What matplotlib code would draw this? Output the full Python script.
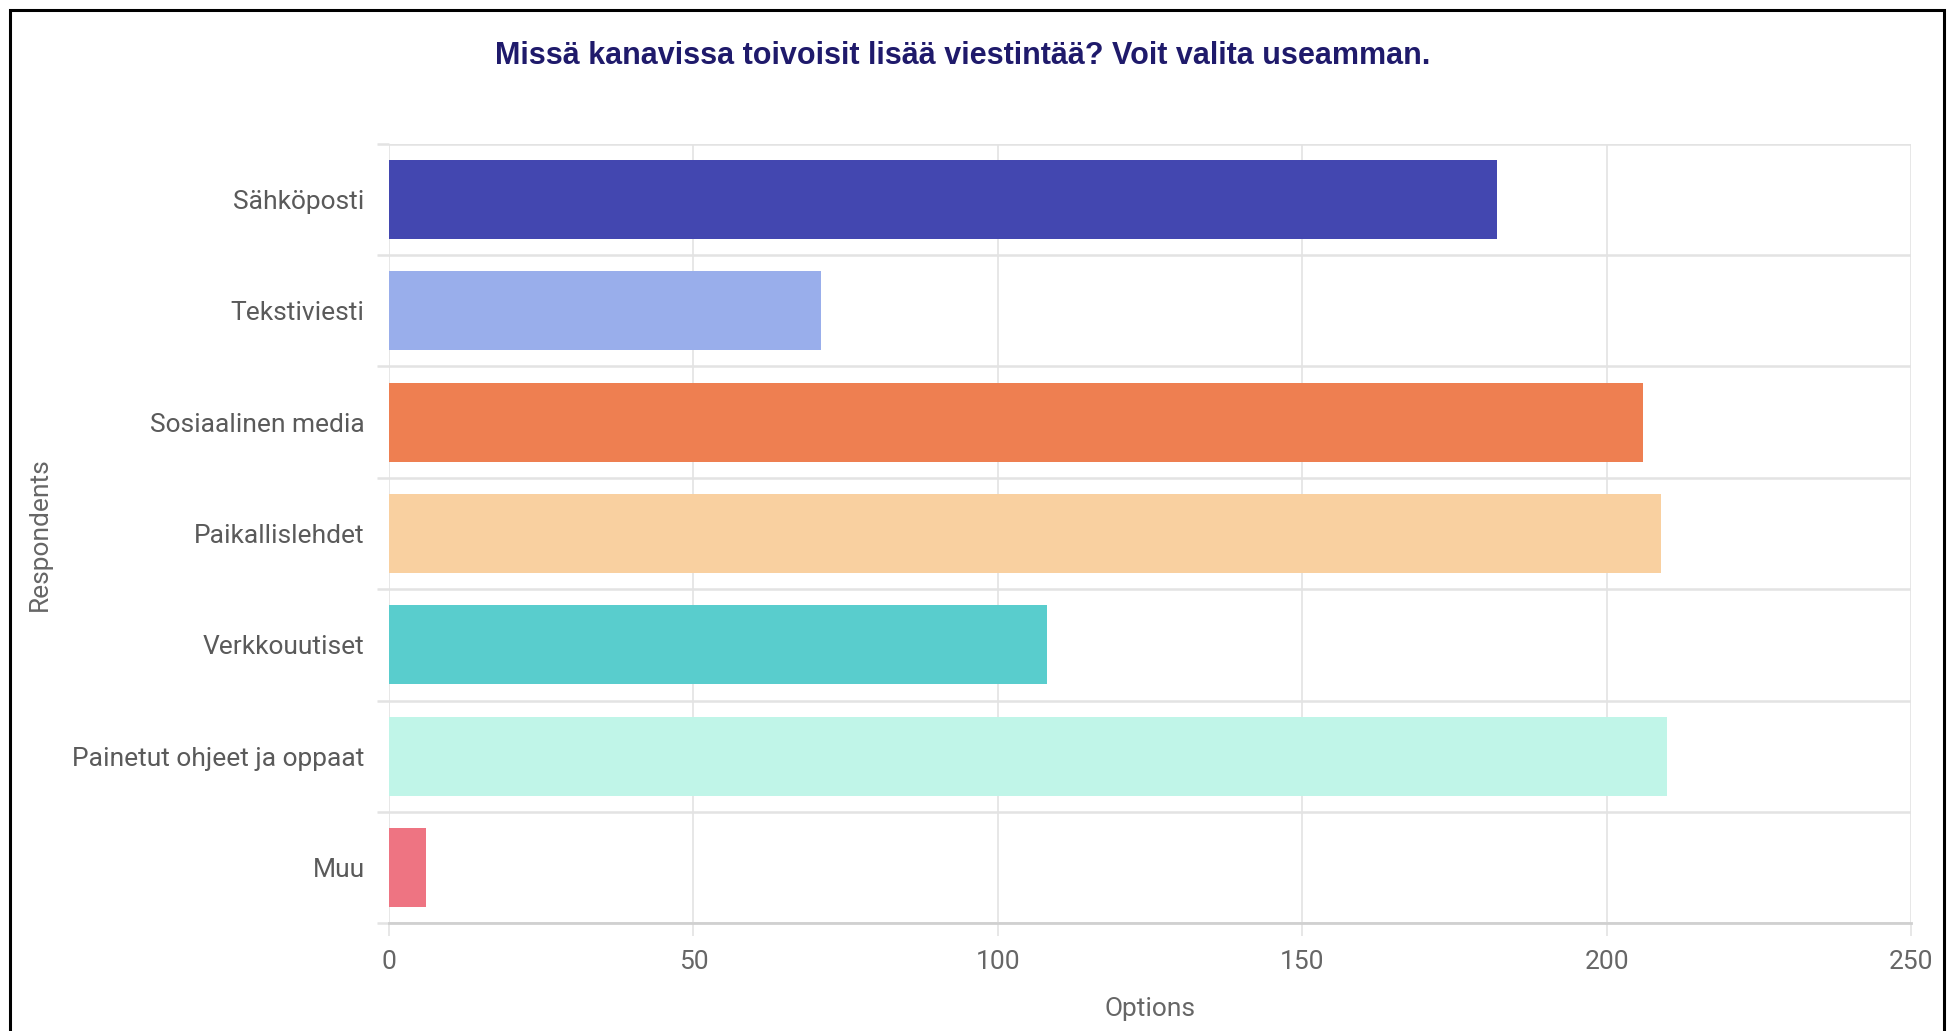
import matplotlib.pyplot as plt
import numpy as np
from matplotlib.patches import Rectangle

# vastaukset kanavittain
kanavat = ['Sähköposti', 'Tekstiviesti', 'Sosiaalinen media', 'Paikallislehdet',
           'Verkkouutiset', 'Painetut ohjeet ja oppaat', 'Muu']
vastaukset = [182, 71, 206, 209, 108, 210, 6]
varit = ['#4347B0', '#99AEEB', '#EE7F51', '#F9D0A0', '#59CDCD', '#C0F5E8', '#EE7482']
xtiks = [0, 50, 100, 150, 200, 250]

plt.rcParams['font.family'] = ['Roboto', 'DejaVu Sans']

fig = plt.figure(figsize=(19.57, 10.31), dpi=100)
ax = fig.add_axes([0.1988, 0.1043, 0.7777, 0.7565])

y = np.arange(len(kanavat))
ax.barh(y, vastaukset, height=0.71, color=varit, zorder=3)

ax.set_xlim(0, 250)
ax.set_ylim(len(kanavat) - 0.5, -0.5)
ax.set_xticks(xtiks)
ax.set_yticks(y)
ax.set_yticklabels(kanavat)
ax.set_yticks(np.arange(-0.5, len(kanavat)), minor=True)

ax.grid(True, axis='x', which='major', color='#E3E3E3', lw=1.2, zorder=0)
ax.grid(True, axis='y', which='minor', color='#E3E3E3', lw=1.8, zorder=0)
ax.tick_params(axis='y', which='major', length=0, pad=17.5, labelsize=19, labelcolor='#5A5A5A')
ax.tick_params(axis='y', which='minor', length=9, width=1.8, color='#E3E3E3')
ax.tick_params(axis='x', which='major', length=9, width=1.2, color='#E3E3E3',
               pad=10, labelsize=19, labelcolor='#666666')

for s in ['top', 'right', 'left']:
    ax.spines[s].set_visible(False)
ax.spines['bottom'].set_color('#D0D0D0')
ax.spines['bottom'].set_linewidth(2)
ax.spines['bottom'].set_zorder(4)

ax.set_xlabel('Options', fontsize=19, color='#666666', labelpad=17)
fig.text(40 / 1957, 1 - 534 / 1031, 'Respondents', rotation=90, ha='center', va='center',
         fontsize=19, color='#666666')

fig.text(963 / 1957, 1 - 56 / 1031, 'Missä kanavissa toivoisit lisää viestintää? Voit valita useamman.',
         ha='center', va='center', fontsize=22, fontweight='bold', color='#1F1A6B',
         family=['Liberation Sans', 'DejaVu Sans'])

# musta kehys
fig.patches.append(Rectangle((10 / 1957, -0.02), 1934 / 1957, 1.02 - 10 / 1031,
                             transform=fig.transFigure, fill=False, ec='black', lw=2.2))

plt.savefig('out.png', dpi=100)
